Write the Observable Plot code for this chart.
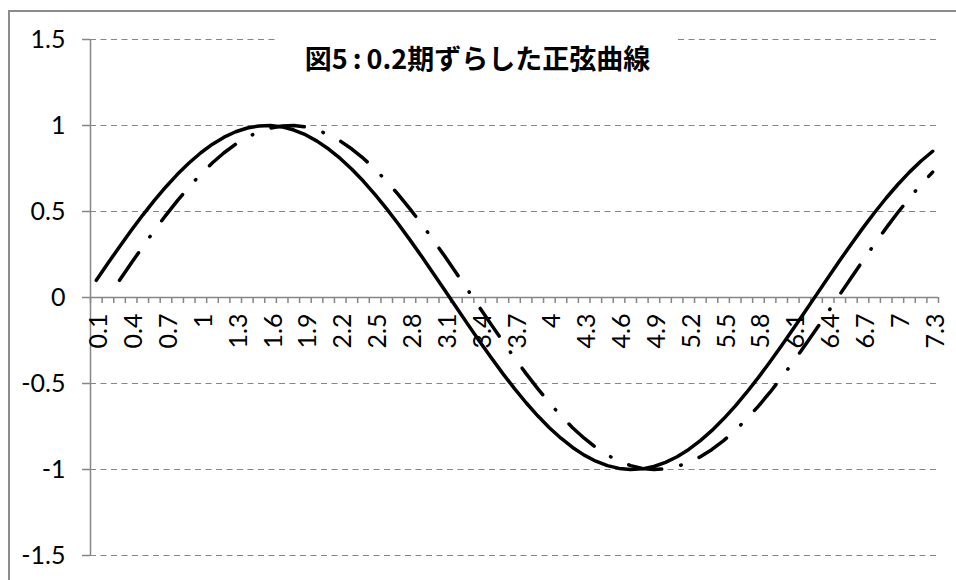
<!DOCTYPE html>
<html>
<head>
<meta charset="utf-8">
<script src="https://cdn.jsdelivr.net/npm/d3@7"></script>
<script src="https://cdn.jsdelivr.net/npm/@observablehq/plot@0.6"></script>
<style>
  html, body { margin: 0; padding: 0; background: #fff; }
  #chart { position: relative; width: 956px; height: 580px; overflow: hidden; }
  #chart svg { position: absolute; left: 0; top: 0; }
  #frame {
    position: absolute; left: 8px; top: 10px; width: 980px; height: 600px;
    border-top: 2px solid #8c8c8c; border-left: 2px solid #8c8c8c;
    pointer-events: none;
  }
  #title {
    position: absolute; left: 277px; top: 33px; width: 401px; height: 50px;
    line-height: 50px; background: #fff; text-align: center;
    font-family: "Noto Sans CJK JP", sans-serif; font-weight: bold; font-size: 27px;
    color: #000; white-space: nowrap;
  }
  #title .sep { margin: 0 5px; }
</style>
</head>
<body>
<div id="chart">
  <div id="frame"></div>
  <div id="title">図5<span class="sep">:</span>0.2期ずらした正弦曲線</div>
</div>
<script>
// x categories 0.1 … 7.3
const xs = [0.1,0.2,0.3,0.4,0.5,0.6,0.7,0.8,0.9,1.0,1.1,1.2,1.3,1.4,1.5,1.6,1.7,1.8,1.9,2.0,
  2.1,2.2,2.3,2.4,2.5,2.6,2.7,2.8,2.9,3.0,3.1,3.2,3.3,3.4,3.5,3.6,3.7,3.8,3.9,4.0,
  4.1,4.2,4.3,4.4,4.5,4.6,4.7,4.8,4.9,5.0,5.1,5.2,5.3,5.4,5.5,5.6,5.7,5.8,5.9,6.0,
  6.1,6.2,6.3,6.4,6.5,6.6,6.7,6.8,6.9,7.0,7.1,7.2,7.3];

// solid series: sine curve
const sineValues = [0.0998,0.1987,0.2955,0.3894,0.4794,0.5646,0.6442,0.7174,0.7833,0.8415,
  0.8912,0.9320,0.9636,0.9854,0.9975,0.9996,0.9917,0.9738,0.9463,0.9093,
  0.8632,0.8085,0.7457,0.6755,0.5985,0.5155,0.4274,0.3350,0.2392,0.1411,
  0.0416,-0.0584,-0.1577,-0.2555,-0.3508,-0.4425,-0.5298,-0.6119,-0.6878,-0.7568,
  -0.8183,-0.8716,-0.9162,-0.9516,-0.9775,-0.9937,-0.9999,-0.9962,-0.9825,-0.9589,
  -0.9258,-0.8835,-0.8323,-0.7728,-0.7055,-0.6313,-0.5507,-0.4646,-0.3739,-0.2794,
  -0.1822,-0.0831,0.0168,0.1165,0.2151,0.3115,0.4048,0.4941,0.5784,0.6570,
  0.7290,0.7937,0.8504];

// dash-dot series: the same curve delayed by 0.2 (no values for the first two categories)
const shiftedValues = [null,null,0.0998,0.1987,0.2955,0.3894,0.4794,0.5646,0.6442,0.7174,
  0.7833,0.8415,0.8912,0.9320,0.9636,0.9854,0.9975,0.9996,0.9917,0.9738,
  0.9463,0.9093,0.8632,0.8085,0.7457,0.6755,0.5985,0.5155,0.4274,0.3350,
  0.2392,0.1411,0.0416,-0.0584,-0.1577,-0.2555,-0.3508,-0.4425,-0.5298,-0.6119,
  -0.6878,-0.7568,-0.8183,-0.8716,-0.9162,-0.9516,-0.9775,-0.9937,-0.9999,-0.9962,
  -0.9825,-0.9589,-0.9258,-0.8835,-0.8323,-0.7728,-0.7055,-0.6313,-0.5507,-0.4646,
  -0.3739,-0.2794,-0.1822,-0.0831,0.0168,0.1165,0.2151,0.3115,0.4048,0.4941,
  0.5784,0.6570,0.7290];

// category labels shown on the axis (every third one)
const xTickLabels = ["0.1","0.4","0.7","1","1.3","1.6","1.9","2.2","2.5","2.8","3.1","3.4",
  "3.7","4","4.3","4.6","4.9","5.2","5.5","5.8","6.1","6.4","6.7","7","7.3"];
const yTickValues = [-1.5,-1,-0.5,0,0.5,1,1.5];
const yTickLabels = ["-1.5","-1","-0.5","0","0.5","1","1.5"];

const solid = xs.map((x, i) => ({x, y: sineValues[i]}));
const shifted = xs.map((x, i) => ({x, y: shiftedValues[i]}));

// category slots: each category occupies a 0.1-wide band
const xDomain = [xs[0] - 0.05, xs[xs.length - 1] + 0.05];
const slotEdges = xs.map(x => x - 0.05).concat([xDomain[1]]);
const labelled = xTickLabels.map(t => ({x: +t, t}));
const yTicks = yTickValues.map((v, i) => ({v, t: yTickLabels[i]}));

const axisGray = "#868686";
const font = "Lato, 'Open Sans', sans-serif";

const svg = Plot.plot({
  width: 956,
  height: 580,
  marginLeft: 90,
  marginRight: 18,
  marginTop: 39,
  marginBottom: 25,
  x: {domain: xDomain, axis: null},
  y: {domain: [-1.5, 1.5], axis: null},
  style: {background: "transparent", fontFamily: font, fontSize: "25px", color: "#000", overflow: "visible"},
  marks: [
    // dashed horizontal gridlines
    Plot.ruleY(yTickValues.filter(v => v !== 0), {stroke: axisGray, strokeWidth: 1, strokeDasharray: "6 4.5"}),
    // vertical value axis with outward ticks
    Plot.ruleX([xDomain[0]], {stroke: axisGray, strokeWidth: 1.5}),
    Plot.ruleY(yTicks, {y: "v", x1: xDomain[0], x2: xDomain[0], insetLeft: -8, stroke: axisGray, strokeWidth: 1.5}),
    Plot.text(yTicks, {y: "v", text: "t", frameAnchor: "left", textAnchor: "end", dx: -25, fill: "#000", fontSize: 25}),
    // category axis at zero with ticks between categories
    Plot.ruleY([0], {stroke: axisGray, strokeWidth: 1.5}),
    Plot.ruleX(slotEdges, {x: d => d, y1: 0, y2: 0, insetBottom: -6, stroke: axisGray, strokeWidth: 1.5}),
    Plot.text(labelled, {x: "x", y: 0, text: "t", rotate: -90, textAnchor: "end", lineAnchor: "middle", dy: 16, dx: 3, fill: "#000", fontSize: 25}),
    // series
    Plot.line(solid, {x: "x", y: "y", stroke: "#000", strokeWidth: 3.5, strokeLinejoin: "round", strokeLinecap: "round"}),
    Plot.line(shifted, {x: "x", y: "y", stroke: "#000", strokeWidth: 3.5, strokeLinejoin: "round", strokeLinecap: "round", strokeDasharray: "33.5 19.5 0.5 19.5"})
  ]
});

const chart = document.getElementById("chart");
chart.insertBefore(svg, chart.firstChild);
</script>
</body>
</html>
